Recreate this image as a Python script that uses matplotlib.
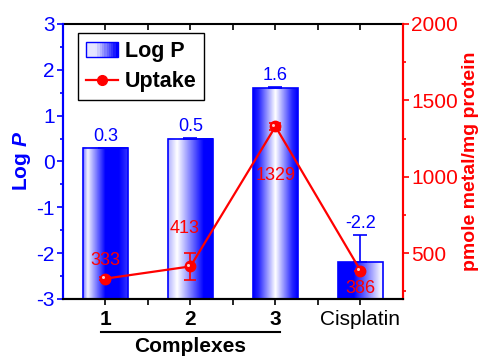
import numpy as np
import matplotlib
matplotlib.use('Agg')
import matplotlib.pyplot as plt
import matplotlib.transforms as mtransforms
from matplotlib.colors import LinearSegmentedColormap
from matplotlib.legend_handler import HandlerBase
from matplotlib.patches import Rectangle
from matplotlib.lines import Line2D

# data
categories = ['1', '2', '3', 'Cisplatin']
logp = [0.3, 0.5, 1.6, -2.2]
logp_err = [0.0, 0.02, 0.03, 0.6]
logp_labels = ['0.3', '0.5', '1.6', '-2.2']
uptake = [333, 413, 1329, 386]
uptake_err = [12, 90, 25, 0]
uptake_labels = ['333', '413', '1329', '386']

BLUE = '#0000ff'
RED = '#ff0000'
plt.rcParams['font.family'] = ['Liberation Sans', 'DejaVu Sans']
plt.rcParams['axes.unicode_minus'] = False
plt.rcParams['mathtext.fontset'] = 'custom'
plt.rcParams['mathtext.bfit'] = 'Liberation Sans:italic:bold'

cmap = LinearSegmentedColormap.from_list('bw', ['#ffffff', BLUE])
# darkness profile across each bar (fraction of width -> darkness)
profiles = [
    ([0, 0.1, 0.5, 0.8, 1], [0.5, 0.05, 1, 1, 0.8]),
    ([0, 0.2, 0.8, 1], [0.3, 0.0, 1, 1]),
    ([0, 0.12, 0.5, 0.88, 1], [1, 0.85, 0.0, 0.85, 1]),
    ([0, 0.35, 0.95, 1], [1, 1, 0.05, 0.05]),
]

fig = plt.figure(figsize=(4.92, 3.58), dpi=100)
ax = fig.add_axes([0.128, 0.165, 0.691, 0.768])
ax2 = ax.twinx()

x = np.arange(1, len(categories) + 1)
width = 0.52
ymin, ymax = -3, 3
for xi, val, (fx, fy) in zip(x, logp, profiles):
    grad = np.interp(np.linspace(0, 1, 64), fx, fy).reshape(1, -1)
    ax.imshow(grad, cmap=cmap, vmin=0, vmax=1, aspect='auto',
              extent=[xi - width / 2, xi + width / 2, ymin, val], zorder=2)
ax.bar(x, np.array(logp) - ymin, bottom=ymin, width=width, facecolor='none',
       edgecolor=BLUE, linewidth=1.2, zorder=3)
ax.errorbar(x, logp, yerr=[np.zeros(4), logp_err], fmt='none', ecolor=BLUE,
            elinewidth=1.2, capsize=5, capthick=1.2, zorder=3)
for xi, val, err, lab in zip(x, logp, logp_err, logp_labels):
    ax.annotate(lab, (xi, val + err), xytext=(0, 2), textcoords='offset points',
                ha='center', va='bottom', color=BLUE, fontsize=13)

ax.set_xlim(0.5, 4.5)
ax.set_ylim(ymin, ymax)

ax2.errorbar(x, uptake, yerr=uptake_err, color=RED, lw=1.6, marker='o', ms=7.5,
             mfc=RED, mec=RED, ecolor=RED, elinewidth=1.2, capsize=4, capthick=1.2, zorder=4)
ax2.plot(x - 0.03, np.array(uptake) + 12, 'o', ms=2.2, mec='none', mfc='#ffc8c8', zorder=5)
label_offsets = [(0, 13), (-4, 27), (0, -35), (0, -13)]
for xi, val, lab, off in zip(x, uptake, uptake_labels, label_offsets):
    ax2.annotate(lab, (xi, val), xytext=off, textcoords='offset points',
                 ha='center', va='center', color=RED, fontsize=13)
ax2.set_ylim(200, 2000)

# axes styling
ax.set_xticks(x)
ax.set_xticklabels(categories, fontsize=15)
for t in ax.get_xticklabels()[:3]:
    t.set_fontweight('bold')
ax.set_xticks(np.arange(1.5, 4.5, 1), minor=True)
ax.tick_params(axis='x', which='both', direction='out', length=4, width=1.2,
               top=False, pad=4)

sec = ax.secondary_xaxis('top')
sec.set_xticks(np.arange(1, 4.5, 0.5))
sec.tick_params(direction='in', length=4, width=1.2, labeltop=False)
sec.spines['top'].set_linewidth(1.5)

ax.set_yticks(range(-3, 4))
ax.set_yticks(np.arange(-2.5, 3, 1), minor=True)
ax.tick_params(axis='y', which='major', colors=BLUE, labelsize=15, length=4, width=1.2, pad=2)
ax.tick_params(axis='y', which='minor', colors=BLUE, length=2.5, width=1.2)
ax.set_ylabel('Log $\\bfit{P}$', color=BLUE, fontsize=15, fontweight='bold', labelpad=2)

ax2.set_yticks(range(500, 2001, 500))
ax2.set_yticks(range(250, 2000, 500), minor=True)
ax2.tick_params(axis='y', which='major', colors=RED, labelsize=15, length=4, width=1.2, pad=2)
ax2.tick_params(axis='y', which='minor', colors=RED, length=2.5, width=1.2)
ax2.set_ylabel('pmole metal/mg protein', color=RED, fontsize=14, fontweight='bold', labelpad=3)

for a in (ax, ax2):
    a.spines['left'].set_color(BLUE)
    a.spines['right'].set_color(RED)
    a.spines['left'].set_linewidth(1.5)
    a.spines['right'].set_linewidth(1.5)
    a.spines['bottom'].set_linewidth(1.5)
    a.spines['top'].set_visible(False)

# group underline and label
trans = mtransforms.blended_transform_factory(ax.transData, ax.transAxes)
ax.add_line(Line2D([0.95, 3.05], [-0.12, -0.12], transform=trans, color='black',
                   lw=1.5, clip_on=False))
ax.text(2, -0.172, 'Complexes', transform=trans, ha='center', va='center',
        fontsize=15, fontweight='bold')


class GradientHandler(HandlerBase):
    def create_artists(self, legend, orig, xd, yd, w, h, fontsize, trans):
        arts = []
        n = 14
        vals = np.interp(np.linspace(0, 1, n), [0, 0.3, 1], [0.1, 0.1, 1])
        for i, v in enumerate(vals):
            arts.append(Rectangle((xd + i * w / n, yd), w / n + 0.3, h, facecolor=cmap(v),
                                  edgecolor='none', transform=trans))
        arts.append(Rectangle((xd, yd), w, h, facecolor='none', edgecolor=BLUE,
                              lw=1, transform=trans))
        return arts


bar_handle = Rectangle((0, 0), 1, 1)
line_handle = Line2D([], [], color=RED, marker='o', ms=7, lw=1.6)
leg = ax.legend([bar_handle, line_handle], ['Log P', 'Uptake'],
                handler_map={Rectangle: GradientHandler()},
                loc='upper left', bbox_to_anchor=(0.045, 0.967), fancybox=False,
                edgecolor='black', framealpha=1, handlelength=1.5, handletextpad=0.3,
                borderpad=0.35, labelspacing=0.45, borderaxespad=0,
                prop={'weight': 'bold', 'size': 15.5})
leg.get_frame().set_linewidth(1.0)
leg.set_zorder(10)

fig.savefig('out.png', dpi=100)
